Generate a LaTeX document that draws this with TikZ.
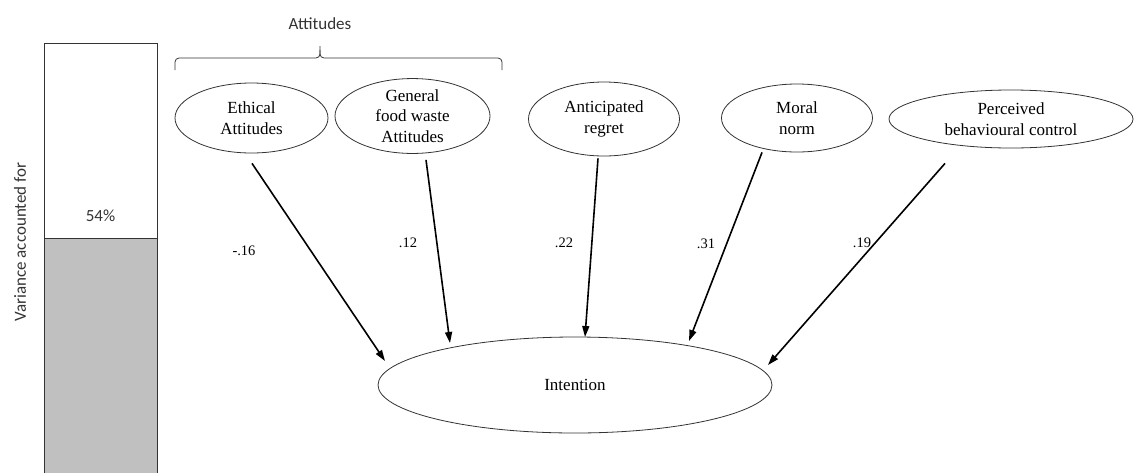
\documentclass[tikz,border=0pt]{standalone}
\usepackage{fontspec}
\setmainfont{Liberation Serif}
\newfontfamily\calib{Carlito}
\usetikzlibrary{shapes.geometric,arrows.meta,calc}
\begin{document}
\begin{tikzpicture}[x=1pt,y=-1pt,
  var/.style={ellipse,draw=black!80,line width=0.8pt,inner sep=0pt,align=center,
     font=\fontsize{17}{20.5}\selectfont},
  arr/.style={line width=1.6pt,-{Triangle[length=11pt,width=7pt]}},
  coef/.style={font=\fontsize{14.5}{16}\selectfont},
  sans/.style={font=\calib\fontsize{17}{20}\selectfont, text=black!80}]
\useasboundingbox (0,0) rectangle (1143,472);
% variance bar
\fill[fill={rgb,255:red,192;green,192;blue,192}] (44,238) rectangle (157,474);
\draw[line width=0.8pt,black!80] (44,474) -- (44,43) -- (157,43) -- (157,474);
\draw[line width=0.8pt,black!80] (44,238) -- (157,238);
\node[sans] (pct) at (100.5,216) {54\%};
\node[sans,rotate=90] (vaf) at (20,242) {Variance accounted for};
% brace
\node[sans] (att) at (320,24) {Attitudes};
\coordinate (bl) at (175,70);
\coordinate (br) at (502,70);
\coordinate (bt) at (320,46);
\draw[line width=0.8pt,black!80,rounded corners=4pt] (bl) -- (175,58) -- (320,58) -- (bt);
\draw[line width=0.8pt,black!80,rounded corners=4pt] (320,50) -- (320,58) -- (502,58) -- (br);
% latent variables
\node[var,minimum width=153pt,minimum height=70pt] (eth) at (251.5,118) {Ethical\\Attitudes};
\node[var,minimum width=155pt,minimum height=74pt] (gen) at (412.5,116) {General\\food waste\\Attitudes};
\node[var,minimum width=151pt,minimum height=74pt] (ant) at (604,119) {Anticipated\\regret};
\node[var,minimum width=151pt,minimum height=68pt] (mor) at (797,118) {Moral\\norm};
\node[var,minimum width=244pt,minimum height=58pt] (per) at (1011,119) {Perceived\\behavioural control};
\node[var,minimum width=394pt,minimum height=96pt] (int) at (575,385) {Intention};
% arrow end points
\coordinate (s1) at ($(eth.south)+(0.5,10)$);
\coordinate (t1) at (385,361);
\coordinate (s2) at ($(gen.south)+(13.5,6)$);
\coordinate (t2) at (450,343);
\coordinate (s3) at ($(ant.south)+(-6,2)$);
\coordinate (t3) at (585,337);
\coordinate (s4) at ($(mor.south)+(-35,0)$);
\coordinate (t4) at (689,341);
\coordinate (s5) at ($(per.south)+(-66,15)$);
\coordinate (t5) at (768,365);
\draw[arr] (s1) -- (t1);
\draw[arr] (s2) -- (t2);
\draw[arr] (s3) -- (t3);
\draw[arr] (s4) -- (t4);
\draw[arr] (s5) -- (t5);
% coefficients
\node[coef] (c1) at (244,251) {-.16};
\node[coef] (c2) at (408,243) {.12};
\node[coef] (c3) at (564,243) {.22};
\node[coef] (c4) at (706,244) {.31};
\node[coef] (c5) at (862,243) {.19};
\end{tikzpicture}
\end{document}
